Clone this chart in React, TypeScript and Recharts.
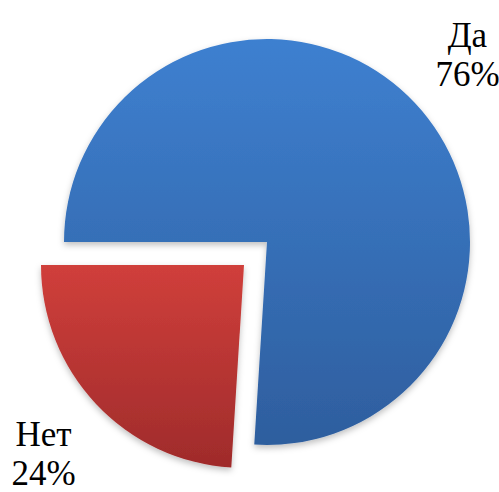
import React from 'react';
import { Cell, Pie, PieChart } from 'recharts';

const categories = ['Да', 'Нет'];
const values = [76, 24];

const data = categories.map((name, i) => ({ name, value: values[i] }));

const RAD = Math.PI / 180;
const START = 180;
const END = -180;
const RADIUS = 203;
// slice centres: main pie and the pulled-out "Нет" slice
const centers = [
  { cx: 267, cy: 242 },
  { cx: 244, cy: 265 },
];

const total = values.reduce((a, b) => a + b, 0);

// label anchors along each slice's mid angle, same geometry as the Pie
const labels = data.map((d, i) => {
  const before = values.slice(0, i).reduce((a, b) => a + b, 0);
  const a0 = START + ((END - START) * before) / total;
  const a1 = START + ((END - START) * (before + d.value)) / total;
  const mid = (a0 + a1) / 2;
  const r = RADIUS + 72;
  return {
    name: d.name,
    pct: `${Math.round((d.value / total) * 100)}%`,
    x: centers[i].cx + r * Math.cos(-mid * RAD),
    y: centers[i].cy + r * Math.sin(-mid * RAD),
  };
});

export default function App() {
  return (
    <div style={{ position: 'absolute', left: 0, top: 0, width: 499, height: 492, background: '#fff' }}>
      <PieChart width={499} height={492} margin={{ top: 0, right: 0, bottom: 0, left: 0 }}>
        <defs>
          <linearGradient id="gradBlue" x1="0" y1="0" x2="0" y2="1">
            <stop offset="0%" stopColor="#3E80D0" />
            <stop offset="100%" stopColor="#2E5E9E" />
          </linearGradient>
          <linearGradient id="gradRed" x1="0" y1="0" x2="0" y2="1">
            <stop offset="0%" stopColor="#D03F3B" />
            <stop offset="100%" stopColor="#9F2B2B" />
          </linearGradient>
          <filter id="shadow" x="-10%" y="-10%" width="120%" height="125%">
            <feDropShadow dx="0" dy="3" stdDeviation="3" floodColor="#000" floodOpacity="0.25" />
          </filter>
        </defs>
        <Pie
          data={data}
          dataKey="value"
          nameKey="name"
          cx={centers[0].cx}
          cy={centers[0].cy}
          outerRadius={RADIUS}
          startAngle={START}
          endAngle={END}
          stroke="none"
          label={false}
          labelLine={false}
          isAnimationActive={false}
        >
          <Cell fill="url(#gradBlue)" filter="url(#shadow)" />
          <Cell fill="none" />
        </Pie>
        <Pie
          data={data}
          dataKey="value"
          nameKey="name"
          cx={centers[1].cx}
          cy={centers[1].cy}
          outerRadius={RADIUS}
          startAngle={START}
          endAngle={END}
          stroke="none"
          label={false}
          labelLine={false}
          isAnimationActive={false}
        >
          <Cell fill="none" />
          <Cell fill="url(#gradRed)" filter="url(#shadow)" />
        </Pie>
      </PieChart>
      <svg width={499} height={492} style={{ position: 'absolute', left: 0, top: 0, pointerEvents: 'none' }}>
        {labels.map((l) => (
          <g key={l.name}>
            <text x={l.x} y={l.y - 7} textAnchor="middle" fill="#000" fontFamily="Times New Roman" fontSize={35}>
              {l.name}
            </text>
            <text x={l.x} y={l.y + 32} textAnchor="middle" fill="#000" fontFamily="Times New Roman" fontSize={35}>
              {l.pct}
            </text>
          </g>
        ))}
      </svg>
    </div>
  );
}
